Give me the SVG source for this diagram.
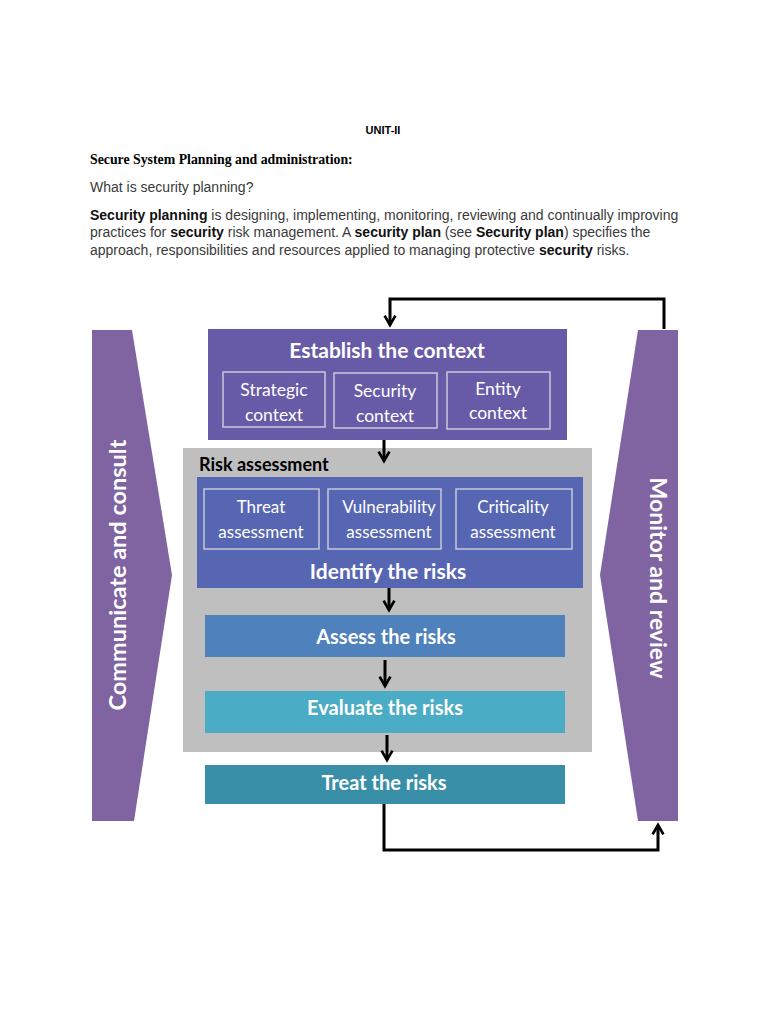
<svg xmlns="http://www.w3.org/2000/svg" width="768" height="1024" viewBox="0 0 768 1024">
<style>
.doc{font-family:"Liberation Sans",Arial,sans-serif;font-size:14px;fill:#3a3a3a}
.b{font-weight:bold;fill:#111}
.w{font-family:Lato,"Open Sans",sans-serif;fill:#fff}
.wb{font-family:Lato,"Open Sans",sans-serif;fill:#fff;font-weight:bold}
.sub{fill:none;stroke:#c8c8d8;stroke-width:1.5}
.side{fill:#8064a2}
.conn{fill:none;stroke:#000;stroke-width:3}
</style>
<defs>
<marker id="ah" viewBox="0 0 10 10" refX="8" refY="5" markerWidth="4.5" markerHeight="4.5" orient="auto" markerUnits="strokeWidth">
<path d="M1,1 L8,5 L1,9" fill="none" stroke="#000" stroke-width="2"/>
</marker>
</defs>
<rect width="768" height="1024" fill="#fff"/>
<text x="383" y="134" text-anchor="middle" style="font-family:'Liberation Sans',Arial,sans-serif;font-size:11px;font-weight:bold" fill="#000">UNIT-II</text>
<text x="90" y="164" style="font-family:'Liberation Serif','Times New Roman',serif;font-size:13.8px;font-weight:bold" fill="#000">Secure System Planning and administration:</text>
<text x="90" y="192" class="doc">What is security planning?</text>
<text x="90" y="220" class="doc"><tspan class="b">Security planning</tspan> is designing, implementing, monitoring, reviewing and continually improving</text>
<text x="90" y="237" class="doc">practices for <tspan class="b">security</tspan> risk management. A <tspan class="b">security plan</tspan> (see <tspan class="b">Security plan</tspan>) specifies the</text>
<text x="90" y="255" class="doc">approach, responsibilities and resources applied to managing protective <tspan class="b">security</tspan> risks.</text>

<g id="communicate">
<polygon class="side" points="92,330 132,330 172,575 134,821 92,821"/>
<text class="wb" font-size="23.5" transform="translate(126,575) rotate(-90)" text-anchor="middle">Communicate and consult</text>
</g>
<g id="monitor">
<polygon class="side" points="638,330 678,330 678,821 638,821 600,575"/>
<text class="wb" font-size="23" transform="translate(650,578) rotate(90)" text-anchor="middle">Monitor and review</text>
</g>

<g id="establish">
<rect x="208" y="329" width="359" height="111" fill="#675ba8"/>
<text class="wb" x="387" y="358" font-size="21" text-anchor="middle">Establish the context</text>
<rect class="sub" x="223" y="372" width="102" height="55"/>
<text class="w" x="274" y="396" font-size="17.5" text-anchor="middle">Strategic</text>
<text class="w" x="274" y="421" font-size="17.5" text-anchor="middle">context</text>
<rect class="sub" x="334" y="373" width="103" height="55"/>
<text class="w" x="385" y="397" font-size="17.5" text-anchor="middle">Security</text>
<text class="w" x="385" y="422" font-size="17.5" text-anchor="middle">context</text>
<rect class="sub" x="447" y="372" width="103" height="57"/>
<text class="w" x="498" y="395" font-size="17.5" text-anchor="middle">Entity</text>
<text class="w" x="498" y="419" font-size="17.5" text-anchor="middle">context</text>
</g>

<g id="risk-assessment">
<rect x="183" y="448" width="409" height="304" fill="#bfbfbf"/>
<text x="199" y="471" font-size="18" font-weight="bold" style="font-family:Lato,'Open Sans',sans-serif" fill="#000">Risk assessment</text>
</g>

<g id="identify">
<rect x="197" y="477" width="386" height="111" fill="#5766b3"/>
<rect class="sub" x="204" y="489" width="115" height="60"/>
<text class="w" x="261" y="513" font-size="17" text-anchor="middle">Threat</text>
<text class="w" x="261" y="538" font-size="17" text-anchor="middle">assessment</text>
<rect class="sub" x="328" y="489" width="113" height="60"/>
<text class="w" x="389" y="513" font-size="17" text-anchor="middle">Vulnerability</text>
<text class="w" x="389" y="538" font-size="17" text-anchor="middle">assessment</text>
<rect class="sub" x="456" y="489" width="116" height="60"/>
<text class="w" x="513" y="513" font-size="17" text-anchor="middle">Criticality</text>
<text class="w" x="513" y="538" font-size="17" text-anchor="middle">assessment</text>
<text class="wb" x="388" y="579" font-size="21" text-anchor="middle">Identify the risks</text>
</g>

<g id="assess">
<rect x="205" y="615" width="360" height="42" fill="#4f81bd"/>
<text class="wb" x="386" y="644" font-size="20" text-anchor="middle">Assess the risks</text>
</g>
<g id="evaluate">
<rect x="205" y="691" width="360" height="42" fill="#4bacc6"/>
<text class="wb" x="385" y="715" font-size="20" text-anchor="middle">Evaluate the risks</text>
</g>
<g id="treat">
<rect x="205" y="765" width="360" height="39" fill="#3a8fa8"/>
<text class="wb" x="384" y="790" font-size="20" text-anchor="middle">Treat the risks</text>
</g>

<g id="connectors">
<path class="conn" d="M664,329 V299 H390 V325" marker-end="url(#ah)"/>
<path class="conn" d="M384,440 V461" marker-end="url(#ah)"/>
<path class="conn" d="M389,588 V610" marker-end="url(#ah)"/>
<path class="conn" d="M385,660 V686" marker-end="url(#ah)"/>
<path class="conn" d="M387,735 V760" marker-end="url(#ah)"/>
<path class="conn" d="M384,804 V850 H658 V825" marker-end="url(#ah)"/>
</g>
</svg>
